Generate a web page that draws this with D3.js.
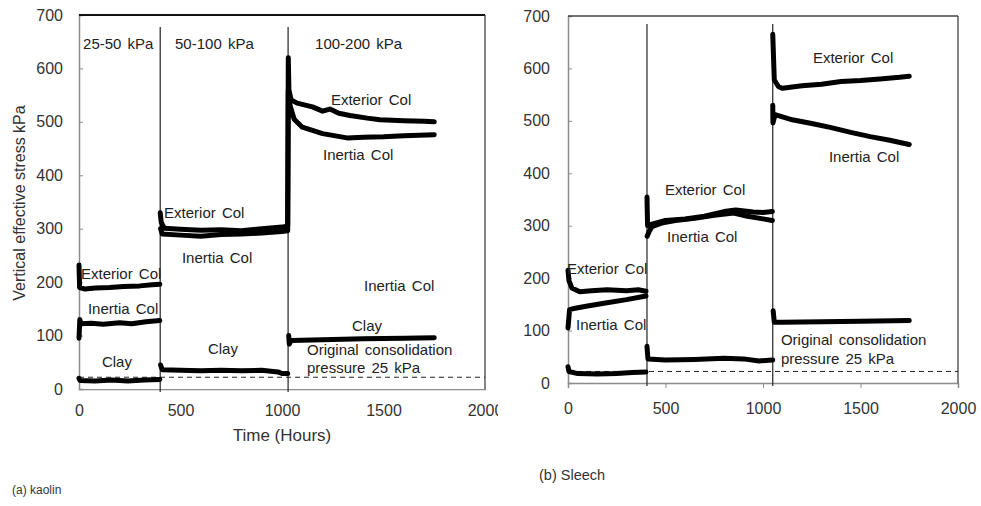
<!DOCTYPE html>
<html>
<head>
<meta charset="utf-8">
<script src="https://cdn.jsdelivr.net/npm/d3@7"></script>
<style>
  body { margin: 0; background: #fff; }
  svg { display: block; font-family: "Liberation Sans", Arial, sans-serif; }
</style>
</head>
<body>
<div id="chart"></div>
<script>
// ---- data (time in hours, vertical effective stress in kPa); null = break in the record ----
const yTicks = [0, 100, 200, 300, 400, 500, 600, 700];
const xTicks = [0, 500, 1000, 1500, 2000];
const consolidationPressure = 22;

// (a) kaolin
const kaolinStages = [400, 1030];
const kaolinExterior = [
  [0,232],[3,190],[30,187],[80,189],[150,190],[220,192],[300,193],[360,195],[398,196],
  null,
  [400,330],[405,312],[420,301],[500,299],[600,297],[700,298],[800,296],[900,300],[1000,303],[1028,305],
  [1031,620],[1034,560],[1045,541],[1075,535],[1150,528],[1200,520],[1236,524],[1280,516],[1335,512],
  [1420,507],[1483,504],[1600,502],[1700,501],[1750,500]
];
const kaolinInertia = [
  [0,95],[4,130],[10,122],[60,123],[120,121],[200,124],[260,122],[330,126],[398,128],
  null,
  [402,300],[410,290],[500,288],[600,286],[700,289],[800,290],[900,292],[1000,295],[1028,296],
  [1031,560],[1040,530],[1060,505],[1100,490],[1200,478],[1320,470],[1400,471],[1500,472],[1600,474],[1750,476]
];
const kaolinClay = [
  [0,20],[5,16],[80,15],[160,17],[240,15],[320,17],[398,18],
  null,
  [402,45],[410,36],[500,35],[600,34],[700,35],[800,34],[900,35],[980,32],[1000,29],[1028,29],
  null,
  [1033,100],[1036,84],[1045,91],[1200,92],[1400,94],[1600,95],[1750,96]
];
const kaolinNotes = [
  ["25-50 kPa",20,636],["50-100 kPa",473,636],["100-200 kPa",1163,636],
  ["Exterior Col",1241,531],["Inertia Col",1202,429],
  ["Exterior Col",419,320],["Inertia Col",507,236],
  ["Exterior Col",10,206],["Inertia Col",44,140],
  ["Clay",113,41],["Clay",635,66],["Inertia Col",1404,183],["Clay",1345,109],
  ["Original consolidation",1123,64],["pressure 25 kPa",1123,30]
];

// (b) Sleech
const sleechStages = [405, 1050];
const sleechExterior = [
  [0,215],[5,195],[20,181],[60,174],[120,176],[200,178],[300,176],[360,178],[400,175],
  null,
  [405,355],[408,300],[430,303],[500,310],[600,313],[700,318],[800,327],[860,330],[950,326],[1000,325],[1048,327],
  null,
  [1050,665],[1058,578],[1080,565],[1100,562],[1200,567],[1300,570],[1400,575],[1500,577],[1600,580],[1700,583],[1750,585]
];
const sleechInertia = [
  [0,105],[8,140],[30,142],[100,147],[200,153],[300,159],[400,166],
  null,
  [406,280],[415,288],[430,298],[480,305],[550,310],[650,314],[750,320],[850,324],[920,318],[1000,313],[1048,310],
  null,
  [1050,530],[1051,496],[1062,512],[1150,502],[1250,495],[1350,487],[1450,478],[1550,470],[1650,463],[1750,455]
];
const sleechClay = [
  [0,31],[5,22],[50,18],[150,17],[250,18],[330,20],[400,21],
  null,
  [405,70],[410,46],[500,44],[650,45],[800,47],[900,46],[980,42],[1050,44],
  null,
  [1052,138],[1058,116],[1100,116],[1300,117],[1500,118],[1750,119]
];
const sleechNotes = [
  ["Exterior Col",1256,610],["Inertia Col",1338,421],
  ["Exterior Col",497,359],["Inertia Col",508,269],
  ["Exterior Col",-5,208],["Inertia Col",41,101],
  ["Original consolidation",1092,72],["pressure 25 kPa",1092,36]
];

// ---- drawing ----
const W = 981, H = 506;
const svg = d3.select("#chart").append("svg").attr("width", W).attr("height", H);

svg.append("defs").append("clipPath").attr("id", "clipA")
  .append("rect").attr("x", -20).attr("y", 0).attr("width", 518).attr("height", 506);

function drawPanel(p) {
  const x = d3.scaleLinear().domain([0, 2000]).range(p.xRange);
  const y = d3.scaleLinear().domain([0, 700]).range(p.yRange);
  const g = svg.append("g");

  // y axis (ticks inside)
  const ya = g.append("g")
    .attr("transform", `translate(${p.xRange[0]},0)`)
    .call(d3.axisLeft(y).tickValues(yTicks).tickFormat(d3.format("d")).tickSize(-4).tickPadding(p.yPad));
  ya.select(".domain").attr("stroke", "#8c8c8c").attr("stroke-width", 1.5);
  ya.selectAll(".tick line").attr("stroke", "#8c8c8c");
  ya.selectAll(".tick text").attr("fill", "#333").style("font-size", "16px");

  // x axis
  const xa = g.append("g")
    .attr("transform", `translate(0,${p.yRange[0]})`)
    .call(d3.axisBottom(x).tickValues(xTicks).tickFormat(d3.format("d")).tickSize(p.xTick).tickPadding(p.xPad));
  xa.select(".domain").attr("stroke", "#8c8c8c").attr("stroke-width", 1.5);
  xa.selectAll(".tick line").attr("stroke", "#8c8c8c");
  xa.selectAll(".tick text").attr("fill", "#333").style("font-size", "16px");
  if (p.clip) xa.attr("clip-path", `url(#${p.clip})`);

  // frame top / right
  g.append("line").attr("x1", p.xRange[0]).attr("x2", p.xRange[1])
    .attr("y1", p.yRange[1]).attr("y2", p.yRange[1])
    .attr("stroke", p.topColor).attr("stroke-width", p.topWidth);
  g.append("line").attr("x1", p.xRange[1]).attr("x2", p.xRange[1])
    .attr("y1", p.yRange[1]).attr("y2", p.yRange[0])
    .attr("stroke", "#333").attr("stroke-width", 1.2);

  // stage dividers
  p.stages.forEach(t => {
    g.append("line").attr("x1", x(t)).attr("x2", x(t))
      .attr("y1", p.dividerTop).attr("y2", p.yRange[0] + 3)
      .attr("stroke", "#222").attr("stroke-width", 1.2);
  });

  // original consolidation pressure
  g.append("line").attr("x1", x(0)).attr("x2", x(2000))
    .attr("y1", y(consolidationPressure)).attr("y2", y(consolidationPressure))
    .attr("stroke", "#222").attr("stroke-width", 1).attr("stroke-dasharray", "5,4");

  // measured series
  const line = d3.line().defined(d => d !== null).x(d => x(d[0])).y(d => y(d[1]));
  p.series.forEach(s => {
    g.append("path").attr("d", line(s))
      .attr("fill", "none").attr("stroke", "#000")
      .attr("stroke-width", 5).attr("stroke-linejoin", "round").attr("stroke-linecap", "round");
  });

  // annotations
  g.selectAll("text.note").data(p.notes).enter().append("text")
    .attr("class", "note")
    .attr("x", d => x(d[1])).attr("y", d => y(d[2]))
    .attr("fill", "#222").style("font-size", "15px").style("word-spacing", "2px")
    .text(d => d[0]);
  return { x, y };
}

drawPanel({
  xRange: [79, 485], yRange: [389, 15], yPad: 16, xTick: -4, xPad: 16, clip: "clipA",
  topColor: "#111", topWidth: 2.2, dividerTop: 27,
  stages: kaolinStages, series: [kaolinExterior, kaolinInertia, kaolinClay], notes: kaolinNotes
});
drawPanel({
  xRange: [568, 958], yRange: [383, 16], yPad: 18, xTick: 5, xPad: 15, clip: null,
  topColor: "#444", topWidth: 1.5, dividerTop: 24,
  stages: sleechStages, series: [sleechExterior, sleechInertia, sleechClay], notes: sleechNotes
});

// titles
svg.append("text")
  .attr("transform", "translate(25,203) rotate(-90)")
  .attr("text-anchor", "middle").attr("fill", "#333").style("font-size", "16px")
  .text("Vertical effective stress kPa");
svg.append("text")
  .attr("x", 282).attr("y", 441)
  .attr("text-anchor", "middle").attr("fill", "#333").style("font-size", "17px")
  .text("Time (Hours)");
svg.append("text").attr("x", 12).attr("y", 494)
  .attr("fill", "#333").style("font-size", "12px").text("(a) kaolin");
svg.append("text").attr("x", 539).attr("y", 480)
  .attr("fill", "#333").style("font-size", "14.5px").text("(b) Sleech");
</script>
</body>
</html>
